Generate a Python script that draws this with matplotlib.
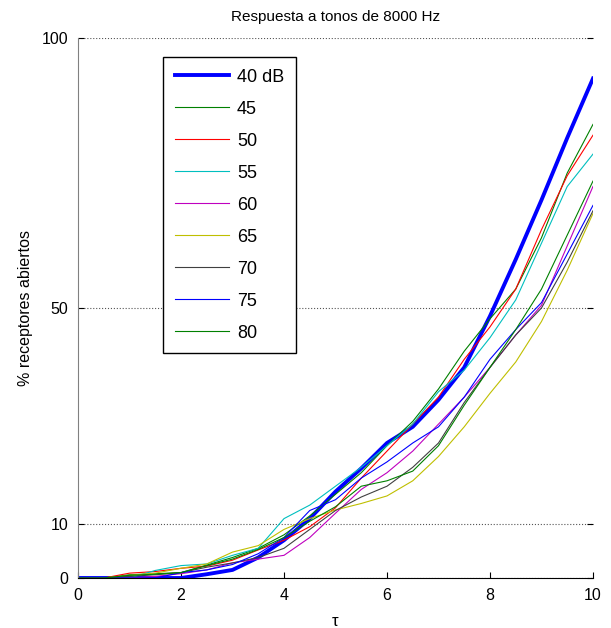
import matplotlib
matplotlib.use('Agg')
from matplotlib import pyplot as plt

plt.rcParams['font.family'] = ['Liberation Sans', 'DejaVu Sans']

tau = [0, 0.5, 1, 1.5, 2, 2.5, 3, 3.5, 4, 4.5, 5, 5.5, 6, 6.5, 7, 7.5, 8, 8.5, 9, 9.5, 10]

labels = ['40 dB', '45', '50', '55', '60', '65', '70', '75', '80']

y40 = [0, 0, 0, 0, 0, 0.7, 1.5, 3.8, 7.0, 11.0, 16.0, 20.3, 25.0, 28.0, 33.0, 39.0, 48.5, 59.0, 70.0, 81.5, 92.5]
y45 = [0, 0, 0.6, 0.8, 1.0, 2.4, 3.8, 5.5, 8.0, 11.5, 15.5, 19.5, 24.5, 29.0, 35.0, 42.0, 48.0, 53.5, 63.0, 75.0, 84.0]
y50 = [0, 0, 0.9, 1.2, 1.8, 2.2, 3.3, 5.2, 7.0, 9.5, 13.0, 18.5, 23.5, 28.5, 33.5, 40.5, 46.5, 53.5, 64.5, 74.5, 82.0]
y55 = [0, 0, 0, 1.4, 2.3, 2.6, 4.2, 5.5, 11.0, 13.5, 17.0, 20.5, 24.5, 28.5, 34.5, 38.5, 44.5, 51.5, 62.0, 72.5, 78.5]
y60 = [0, 0, 0, 0.3, 0.8, 1.5, 2.8, 3.5, 4.2, 7.5, 12.0, 16.4, 19.5, 23.5, 28.5, 33.5, 39.0, 45.0, 50.5, 61.5, 72.5]
y65 = [0, 0, 0.5, 0.9, 1.8, 2.6, 4.8, 6.0, 9.0, 11.0, 12.6, 13.8, 15.2, 18.0, 22.5, 28.0, 34.2, 40.0, 47.5, 57.0, 67.5]
y70 = [0, 0, 0.3, 0.6, 1.0, 2.0, 2.8, 3.8, 5.5, 9.0, 12.5, 15.0, 17.0, 20.5, 25.0, 32.5, 39.0, 45.0, 50.0, 58.5, 68.0]
y75 = [0, 0, 0, 0, 1.0, 1.5, 2.5, 4.5, 7.5, 12.5, 14.5, 18.5, 21.5, 25.0, 28.0, 33.5, 40.5, 46.0, 51.0, 60.0, 69.0]
y80 = [0, 0, 0.5, 0.7, 1.0, 2.3, 3.5, 5.3, 7.5, 10.5, 13.2, 17.0, 18.0, 19.8, 24.5, 32.0, 39.0, 46.0, 53.5, 63.5, 73.5]

series = [y40, y45, y50, y55, y60, y65, y70, y75, y80]
colors = ['#0000ff', '#008000', '#ff0000', '#00bfbf', '#bf00bf', '#bfbf00', '#404040', '#0000ff', '#008000']

fig = plt.figure(figsize=(6.11, 6.28), dpi=100)
ax = fig.add_axes([0.1277, 0.0796, 0.8428, 0.8599])

for i, ys in enumerate(series):
    lw = 2.8 if i == 0 else 0.8
    ax.plot(tau, ys, color=colors[i], lw=lw, label=labels[i])

ax.set_xlim(0, 10)
ax.set_ylim(0, 100)
ax.set_xticks([0, 2, 4, 6, 8, 10])
ax.set_yticks([0, 10, 50, 100])
ax.yaxis.grid(True, linestyle=':', color='#555555', lw=0.8)
ax.spines['top'].set_visible(False)
ax.spines['right'].set_visible(False)
ax.spines['left'].set_color('#808080')
ax.tick_params(direction='in', length=4, labelsize=11.5, pad=7)
ax.tick_params(axis='y', right=True)

ax.set_title('Respuesta a tonos de 8000 Hz', fontsize=11, pad=12)
ax.set_xlabel('τ', fontsize=12, labelpad=8)
ax.set_ylabel('% receptores abiertos', fontsize=11.5, labelpad=6)

leg = ax.legend(loc='upper left', bbox_to_anchor=(163 / 611, 1 - 57 / 628),
                bbox_transform=fig.transFigure, fontsize=13, fancybox=False,
                edgecolor='black', framealpha=1, handlelength=3.0,
                labelspacing=0.83, borderpad=0.65, handletextpad=0.45,
                borderaxespad=0)
leg.get_frame().set_linewidth(1.0)

plt.savefig('out.png', dpi=100)
